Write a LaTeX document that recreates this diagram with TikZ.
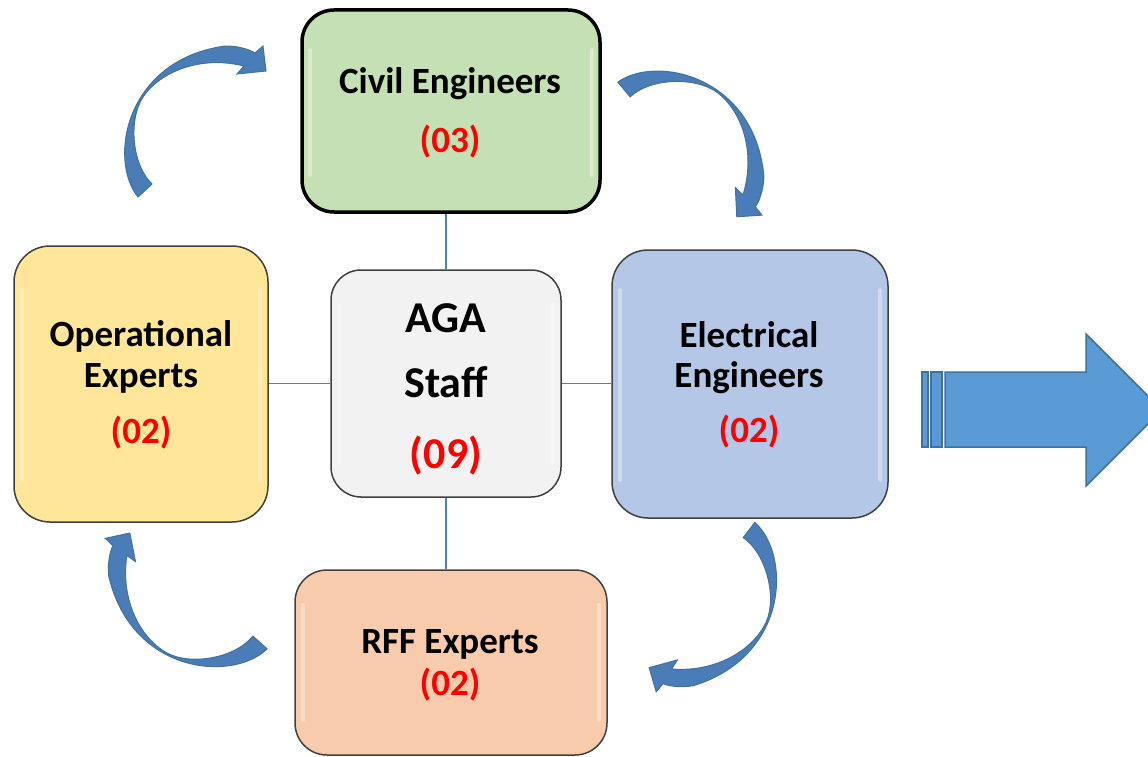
\documentclass[tikz,border=0pt]{standalone}
\usepackage{fontspec}
\setmainfont{Carlito}
\definecolor{civilfill}{HTML}{C5E0B4}
\definecolor{operfill}{HTML}{FFE699}
\definecolor{agafill}{HTML}{F2F2F2}
\definecolor{elecfill}{HTML}{B4C7E7}
\definecolor{rfffill}{HTML}{F8CBAD}
\definecolor{boxline}{HTML}{404040}
\definecolor{linkblue}{HTML}{4F81BD}
\definecolor{arrfill}{HTML}{5B9BD5}
\definecolor{arrdark}{HTML}{4A7DB8}
\definecolor{arrline}{HTML}{41719C}
\definecolor{numred}{HTML}{FF0000}
\begin{document}
\begin{tikzpicture}[x=1pt,y=-1pt,
  box/.style={draw=boxline, line width=1.5pt, rounded corners=32pt, inner sep=0pt},
  lbl/.style={anchor=base, inner sep=0pt, font=\fontsize{37}{44}\selectfont\bfseries},
  biglbl/.style={anchor=base, inner sep=0pt, font=\fontsize{44}{52}\selectfont\bfseries},
  num/.style={text=numred},
  link/.style={draw=linkblue, line width=1.8pt},
  curvarrow/.style={fill=arrdark, draw=arrline, line width=1pt, line join=miter},
  bigarrow/.style={fill=arrfill, draw=arrline, line width=1.5pt},
  glow/.style={draw=white, line width=4pt, opacity=0.35, line cap=round}
]
\useasboundingbox (0,0) rectangle (1148,757);
\clip (0,0) rectangle (1148,757);

% boxes
\node[box, fill=civilfill, draw=black, line width=3.5pt, minimum width=298pt, minimum height=202pt] (civil) at (451,111) {};
\node[box, fill=operfill, rounded corners=36pt, minimum width=254pt, minimum height=276pt] (oper) at (141,384) {};
\node[box, fill=agafill, rounded corners=30pt, minimum width=230pt, minimum height=227pt] (aga) at (446,383.5) {};
\node[box, fill=elecfill, rounded corners=36pt, minimum width=276pt, minimum height=268pt] (elec) at (750,384) {};
\node[box, fill=rfffill, rounded corners=32pt, minimum width=312pt, minimum height=185pt] (rff) at (451,662.5) {};

% soft bevel highlights
\draw[glow] (310,50) -- (310,175);
\draw[glow] (592,50) -- (592,175);
\draw[glow] (22,290) -- (22,480);
\draw[glow] (260,290) -- (260,480);
\draw[glow] (339,305) -- (339,462);
\draw[glow] (553,305) -- (553,462);
\draw[glow] (620,290) -- (620,480);
\draw[glow] (880,290) -- (880,480);
\draw[glow] (303,605) -- (303,720);
\draw[glow] (599,605) -- (599,720);

% connectors
\draw[link] (aga.north) -- (aga.north |- civil.south);
\draw[link] (aga.south) -- (aga.south |- rff.north);
\draw[link] (aga.west) -- (aga.west -| oper.east);
\draw[link] (aga.east) -- (aga.east -| elec.west);

% texts
\node[lbl] (civilt) at (450,94) {Civil Engineers};
\node[lbl, num] (civiln) at (450,153) {(03)};
\node[lbl] (opert1) at (141,346) {Operational};
\node[lbl] (opert2) at (141,387) {Experts};
\node[lbl, num] (opern) at (141,443) {(02)};
\node[biglbl] (agat1) at (446,332) {AGA};
\node[biglbl] (agat2) at (446,397) {Staff};
\node[biglbl, num] (agan) at (446,468) {(09)};
\node[lbl] (elect1) at (749,347) {Electrical};
\node[lbl] (elect2) at (749,387) {Engineers};
\node[lbl, num] (elecn) at (749,442) {(02)};
\node[lbl] (rfft) at (450,653) {RFF Experts};
\node[lbl, num] (rffn) at (450,695) {(02)};

% curved arrows (generic shape = top-left arrow, tail centre at (145,190.5))
\def\curvedshape{
  (138,197) .. controls (108,160) and (125,60) .. (225,46)
  .. controls (240,46) and (250,50) .. (255,53)
  -- (263,46) -- (266,71) -- (237,74) -- (244,66)
  .. controls (200,55) and (160,72) .. (143,97)
  .. controls (128,120) and (132,165) .. (152,184) -- cycle}
\path[curvarrow] \curvedshape;
\begin{scope}[shift={(624,89.5)}, rotate=-93.1, shift={(-145,-190.5)}]
  \path[curvarrow] \curvedshape;
\end{scope}
\begin{scope}[shift={(749,530)}, rotate=-170.6, shift={(-145,-190.5)}]
  \path[curvarrow] \curvedshape;
\end{scope}
\begin{scope}[shift={(260,642.5)}, rotate=95.3, shift={(-145,-190.5)}]
  \path[curvarrow] \curvedshape;
\end{scope}

% big striped arrow
\draw[bigarrow] (922,372) rectangle (928,447);
\draw[bigarrow] (931,372) rectangle (942,447);
\draw[bigarrow] (945,372) -- (1086,372) -- (1086,334) -- (1162,410) -- (1086,486) -- (1086,447) -- (945,447) -- cycle;
\end{tikzpicture}
\end{document}
